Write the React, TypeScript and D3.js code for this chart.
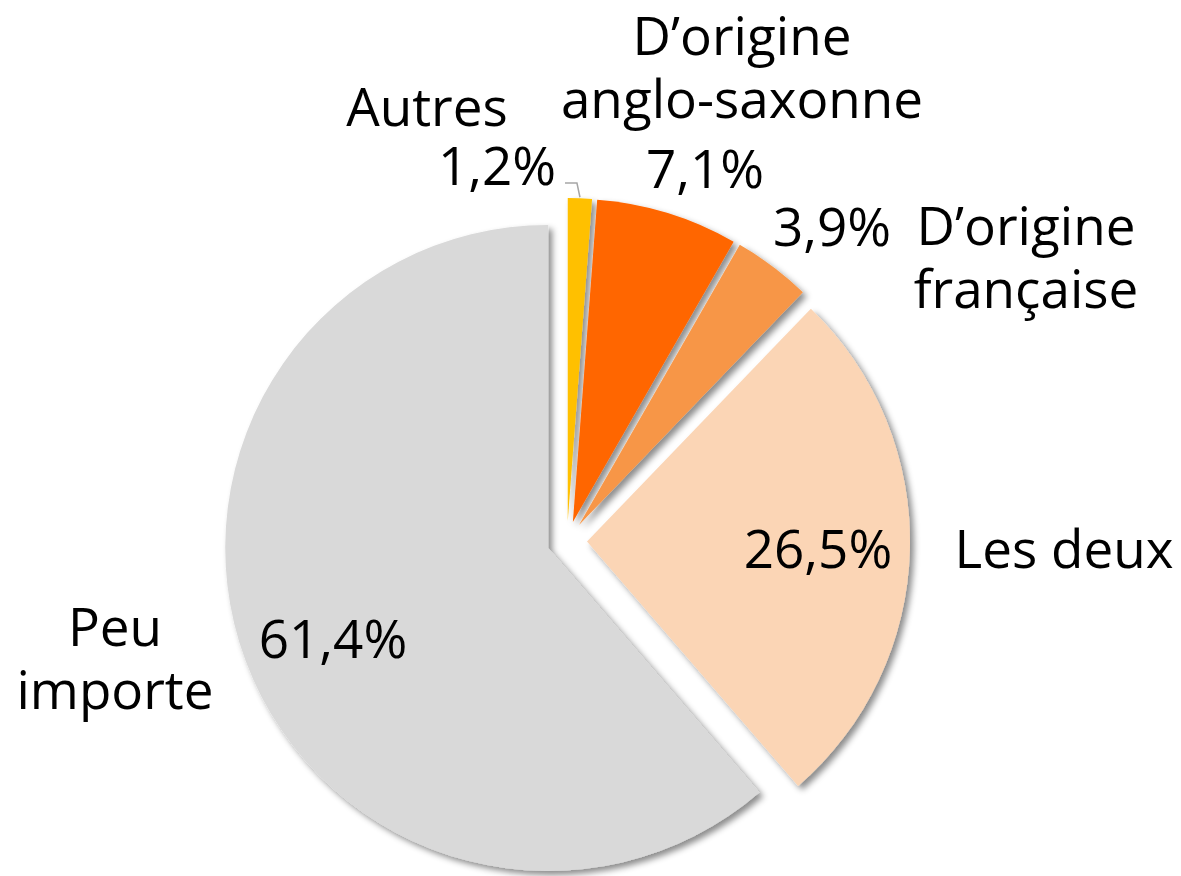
import * as d3 from "d3";

// Données
const categories = ["Autres", "D’origine anglo-saxonne", "D’origine française", "Les deux", "Peu importe"];
const values = [1.2, 7.1, 3.9, 26.5, 61.4];
const valueLabels = ["1,2%", "7,1%", "3,9%", "26,5%", "61,4%"];
const nameLines = [["Autres"], ["D’origine", "anglo-saxonne"], ["D’origine", "française"], ["Les deux"], ["Peu", "importe"]];
const colors = ["#FFC000", "#FF6600", "#F79646", "#FBD5B5", "#D9D9D9"];

// Placement des étiquettes (manuel, comme dans Excel)
const valuePos: [number, number][] = [[497, 185], [705, 188], [832, 246], [818, 568], [333, 658]];
const namePos: [number, number][] = [[427, 126], [742, 55], [1026, 245], [1064, 568], [115, 646]];

const W = 1181;
const H = 876;
const center = { x: 567, y: 541 };
const radius = 323;
const explode = 20;
const fontSize = 53;
const lineH = 63;

export default function App() {
  const pie = d3.pie<number>().sort(null).value((d) => d);
  const arcs = pie(values);
  const arc = d3.arc<d3.PieArcDatum<number>>().innerRadius(0).outerRadius(radius);

  const offset = (a: d3.PieArcDatum<number>) => {
    const mid = (a.startAngle + a.endAngle) / 2;
    return [Math.sin(mid) * explode, -Math.cos(mid) * explode];
  };

  // ligne de rappel pour "Autres"
  const a0 = arcs[0];
  const [ox, oy] = offset(a0);
  const mid0 = (a0.startAngle + a0.endAngle) / 2;
  const tipX = center.x + ox + Math.sin(mid0) * (radius + 1);
  const tipY = center.y + oy - Math.cos(mid0) * (radius + 1);
  const leader = d3.line()([
    [valuePos[0][0] + 68, valuePos[0][1] - 2],
    [tipX - 3, valuePos[0][1] - 2],
    [tipX, tipY],
  ]);

  return (
    <svg
      width={W}
      height={H}
      style={{ position: "absolute", left: 0, top: 0, background: "#fff" }}
      fontFamily="'Open Sans', sans-serif"
    >
      <defs>
        <filter id="shadow" x="-20%" y="-20%" width="140%" height="140%">
          <feDropShadow dx="4" dy="4" stdDeviation="3" floodColor="#000" floodOpacity="0.45" />
        </filter>
      </defs>
      <g filter="url(#shadow)">
        {arcs.map((a, i) => {
          const [dx, dy] = offset(a);
          return (
            <path
              key={categories[i]}
              d={arc(a) ?? ""}
              fill={colors[i]}
              transform={`translate(${center.x + dx},${center.y + dy})`}
            />
          );
        })}
      </g>
      <path d={leader ?? ""} fill="none" stroke="#A6A6A6" strokeWidth={1.5} />
      {valueLabels.map((t, i) => (
        <text key={"v" + i} x={valuePos[i][0]} y={valuePos[i][1]} fontSize={fontSize} textAnchor="middle" fill="#000">
          {t}
        </text>
      ))}
      {nameLines.map((lines, i) => (
        <text key={"n" + i} fontSize={fontSize} textAnchor="middle" fill="#000">
          {lines.map((l, j) => (
            <tspan key={j} x={namePos[i][0]} y={namePos[i][1] + j * lineH}>
              {l}
            </tspan>
          ))}
        </text>
      ))}
    </svg>
  );
}
